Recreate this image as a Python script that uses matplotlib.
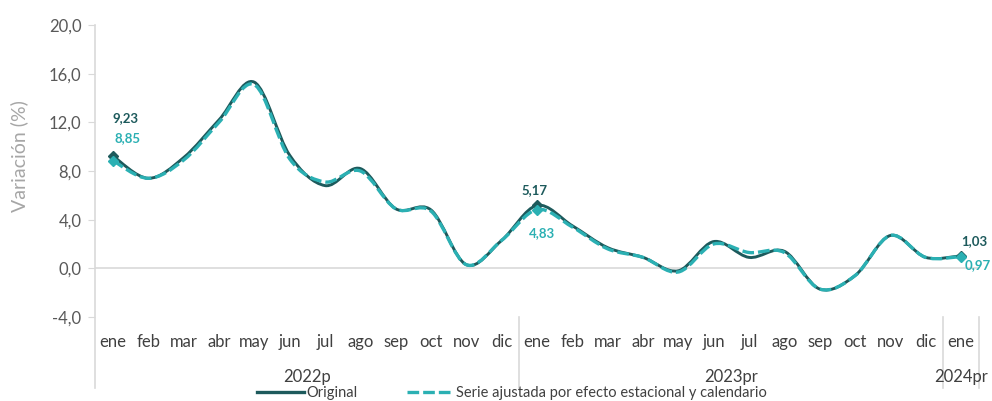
import numpy as np
import matplotlib.pyplot as plt
from matplotlib.path import Path
from matplotlib.patches import PathPatch
from matplotlib.lines import Line2D

plt.rcParams['font.family'] = ['Lato', 'DejaVu Sans']

months = ['ene', 'feb', 'mar', 'abr', 'may', 'jun', 'jul', 'ago', 'sep', 'oct', 'nov', 'dic',
          'ene', 'feb', 'mar', 'abr', 'may', 'jun', 'jul', 'ago', 'sep', 'oct', 'nov', 'dic',
          'ene']
years = ['2022p', '2023pr', '2024pr']
original = [9.23, 7.4, 9.1, 12.2, 15.3, 9.3, 6.8, 8.2, 4.9, 4.8, 0.3, 2.3,
            5.17, 3.5, 1.7, 0.9, -0.2, 2.2, 0.9, 1.4, -1.7, -0.6, 2.7, 0.9,
            1.03]
ajustada = [8.85, 7.4, 8.9, 12.0, 15.1, 9.0, 7.1, 8.0, 4.9, 4.7, 0.3, 2.3,
            4.83, 3.4, 1.6, 0.9, -0.3, 2.0, 1.3, 1.3, -1.7, -0.6, 2.7, 0.9,
            0.97]

dark = '#1d5a5c'
teal = '#2bb0b3'
grey_line = '#d9d9d9'


def smooth_path(xs, ys):
    # bezier segments like excel's smoothed line
    p = np.column_stack([xs, ys]).astype(float)
    n = len(p)
    verts = [p[0]]
    codes = [Path.MOVETO]
    for i in range(n - 1):
        p0 = p[i - 1] if i > 0 else p[i]
        p3 = p[i + 2] if i + 2 < n else p[i + 1]
        c1 = p[i] + (p[i + 1] - p0) / 6.0
        c2 = p[i + 1] - (p3 - p[i]) / 6.0
        verts += [c1, c2, p[i + 1]]
        codes += [Path.CURVE4] * 3
    return Path(verts, codes)


fig = plt.figure(figsize=(9.92, 4.01), dpi=100)
ax = fig.add_axes([95.3 / 992, (401 - 317) / 401, (978.7 - 95.3) / 992, (317 - 25) / 401])

x = np.arange(len(months))

ax.add_patch(PathPatch(smooth_path(x, original), fill=False, edgecolor=dark, lw=2.1,
                       zorder=3, capstyle='round', joinstyle='round'))
ax.add_patch(PathPatch(smooth_path(x, ajustada), fill=False, edgecolor=teal, lw=2.4,
                       linestyle=(0, (3.5, 1.2)), zorder=4))

idx = [0, 12, 24]
ax.plot(x[idx], np.array(original)[idx], 'D', color=dark, ms=5, zorder=5)
ax.plot(x[idx], np.array(ajustada)[idx], 'D', color=teal, ms=5, zorder=6)

# etiquetas de valores
ann = [(0, original[0], dark, (13, 38)), (0, ajustada[0], teal, (15, 23)),
       (12, original[12], dark, (-2, 15)), (12, ajustada[12], teal, (5, -24)),
       (24, original[24], dark, (13, 15)), (24, ajustada[24], teal, (17, -9))]
for xi, v, c, off in ann:
    ax.annotate('{:.2f}'.format(v).replace('.', ','), (xi, v), xytext=off,
                textcoords='offset pixels', ha='center', va='center',
                color=c, fontsize=9.5, fontweight='bold', annotation_clip=False)

ax.set_xlim(-0.5, 24.5)
ax.set_ylim(-4, 20)
ax.set_yticks(np.arange(-4, 21, 4))
ax.set_yticklabels(['{:.1f}'.format(t).replace('.', ',') for t in np.arange(-4, 21, 4)])
ax.tick_params(axis='y', colors=grey_line, labelcolor='#595959', labelsize=12, length=5, pad=5)
ax.axhline(0, color=grey_line, lw=1.2, zorder=1)

ax.set_xticks(x)
ax.set_xticklabels(months)
ax.tick_params(axis='x', length=0, pad=12, labelsize=12, labelcolor='#404040')

for s in ['top', 'right', 'bottom', 'left']:
    ax.spines[s].set_visible(False)

ax.plot([-0.5, -0.5], [-9.8, 20], color=grey_line, lw=1.2, clip_on=False)
for sx in [11.5, 23.5, 24.5]:
    ax.plot([sx, sx], [-4, -9.8], color=grey_line, lw=1.2, clip_on=False)

year_pos = [5.5, 17.5, 24]
for yp, yl in zip(year_pos, years):
    ax.text(yp, -8.9, yl, ha='center', va='center', fontsize=12, color='#404040')

ax.set_ylabel('Variación (%)', fontsize=14, color='#a6a6a6')
ax.yaxis.set_label_coords(-0.0755, (317 - 156) / 292)

handles = [Line2D([], [], color=dark, lw=2.4),
           Line2D([], [], color=teal, lw=2.4, linestyle=(0, (3.5, 1.2)))]
fig.legend(handles, ['Original', 'Serie ajustada por efecto estacional y calendario'],
           loc='center', bbox_to_anchor=(512 / 992, 1 - 393 / 401), ncol=2, frameon=False,
           fontsize=10.5, handlelength=3.2, handletextpad=0.15, columnspacing=3.4,
           labelcolor='#404040')

fig.savefig('out.png', dpi=100)
